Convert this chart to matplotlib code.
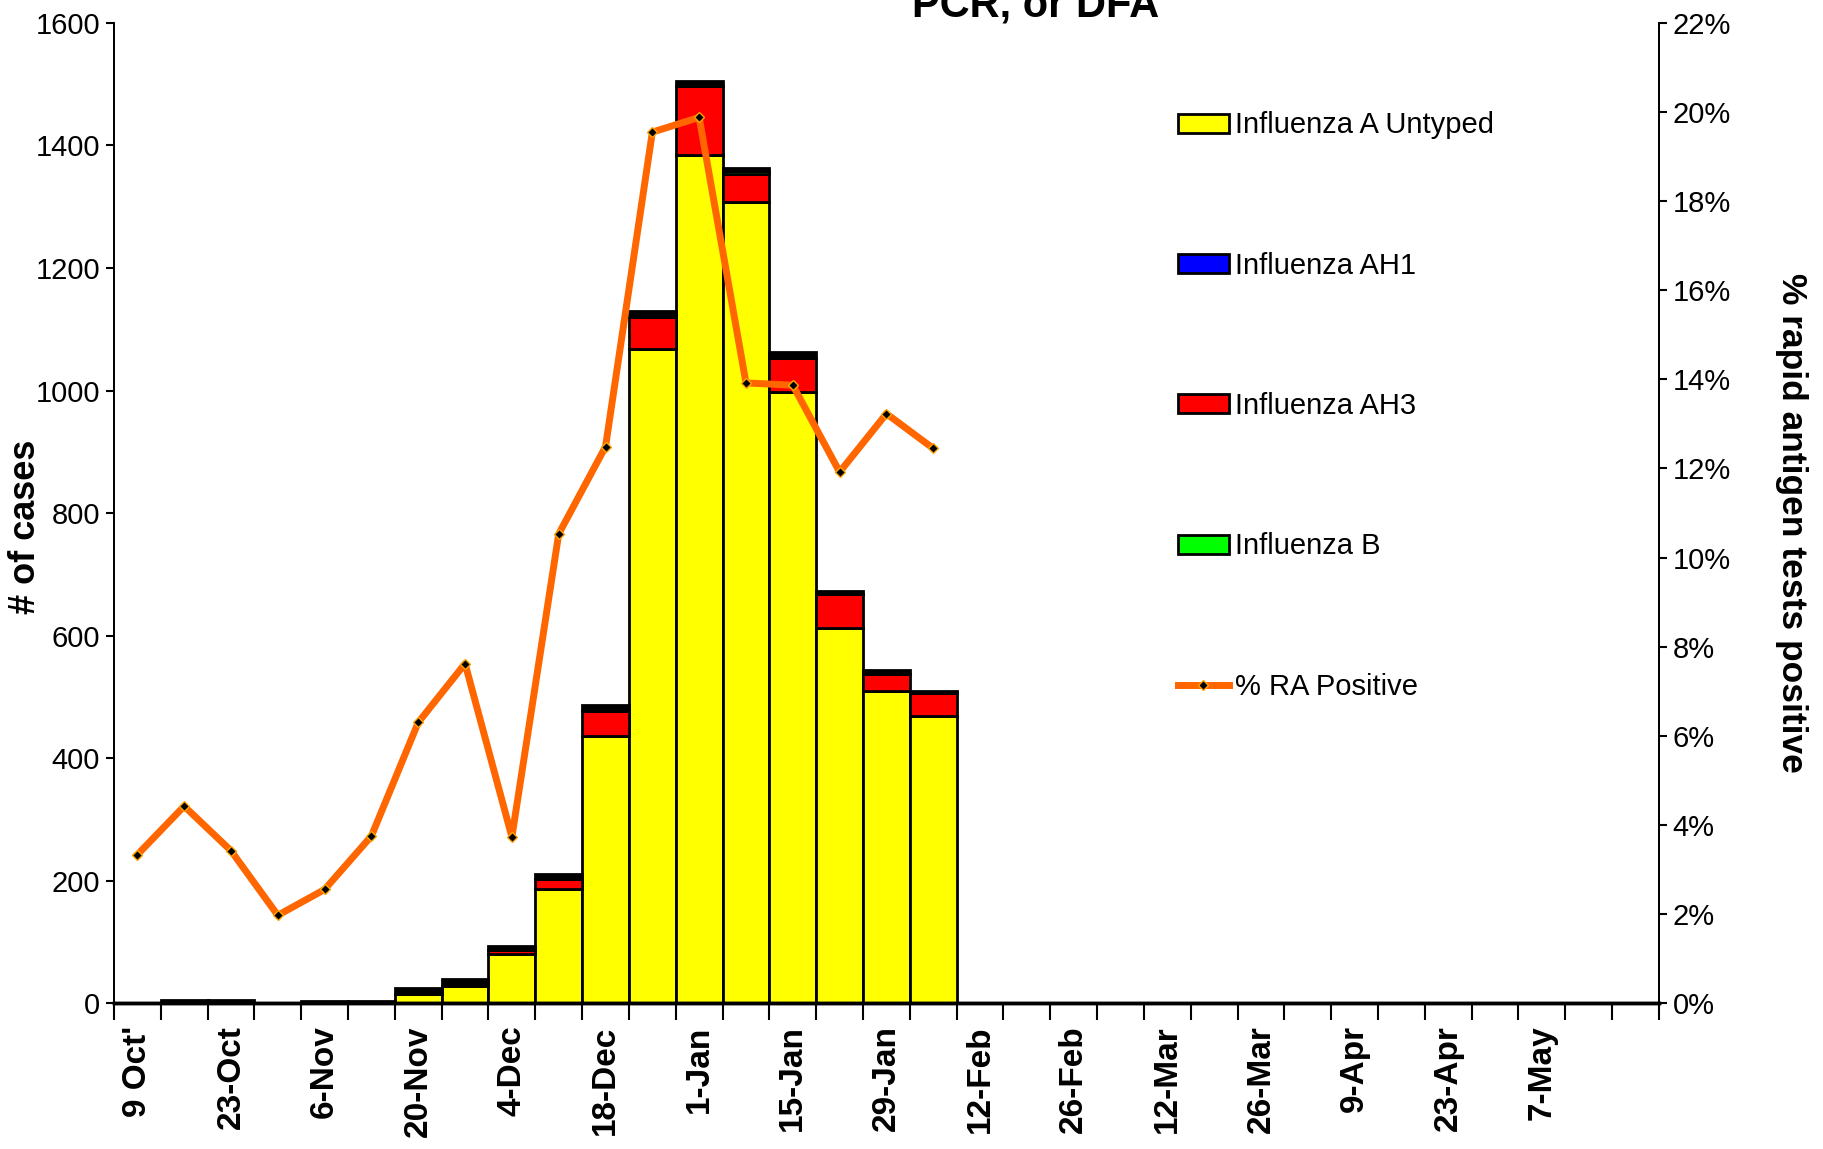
import numpy as np
import matplotlib
matplotlib.use('Agg')
import matplotlib.pyplot as plt
from matplotlib.ticker import FuncFormatter, FixedLocator

# weekly bins, 9 Oct through late May (last two bins carry no label)
weeks = ["9 Oct'", "16-Oct", "23-Oct", "30-Oct", "6-Nov", "13-Nov", "20-Nov", "27-Nov",
         "4-Dec", "11-Dec", "18-Dec", "25-Dec", "1-Jan", "8-Jan", "15-Jan", "22-Jan",
         "29-Jan", "5-Feb", "12-Feb", "19-Feb", "26-Feb", "5-Mar", "12-Mar", "19-Mar",
         "26-Mar", "2-Apr", "9-Apr", "16-Apr", "23-Apr", "30-Apr", "7-May", "", ""]

# cases per week (stacked), only first 18 weeks have data
flu_a_untyped = [0, 0, 0, 0, 0, 0, 15, 28, 80, 187, 436, 1068, 1385, 1307, 997, 612, 510, 468]
flu_ah1 = [0, 0, 0, 0, 0, 0, 0, 0, 0, 0, 0, 0, 0, 0, 0, 0, 0, 0]
flu_ah3 = [0, 0, 0, 0, 0, 0, 0, 0, 6, 15, 40, 52, 112, 47, 56, 55, 28, 38]
flu_b = [0, 0, 0, 0, 0, 0, 0, 0, 0, 0, 0, 0, 0, 5, 0, 0, 0, 0]
other = [0, 5, 5, 0, 4, 4, 10, 12, 7, 8, 10, 10, 8, 5, 10, 5, 5, 3]

# % rapid antigen tests positive
ra_positive = [3.33, 4.42, 3.42, 1.97, 2.55, 3.75, 6.30, 7.62, 3.73, 10.53, 12.49,
               19.55, 19.88, 13.92, 13.87, 11.92, 13.23, 12.45]

plt.rcParams['font.family'] = ['Liberation Sans', 'DejaVu Sans']

fig = plt.figure(figsize=(18.23, 11.49), dpi=100)
ax = fig.add_axes([0.0625, 0.127, 0.8475, 0.853])
ax2 = ax.twinx()

n = len(flu_a_untyped)
x = np.arange(n)
bottom = np.zeros(n)
series = [(flu_a_untyped, '#FFFF00', 'Influenza A Untyped'),
          (flu_ah1, '#0000FF', 'Influenza AH1'),
          (flu_ah3, '#FF0000', 'Influenza AH3'),
          (flu_b, '#00FF00', 'Influenza B'),
          (other, '#000000', '_nolegend_')]
for vals, col, lab in series:
    vals = np.array(vals, dtype=float)
    ax.bar(x, vals, width=1.0, bottom=bottom, color=col, edgecolor='black',
           linewidth=2, label=lab, zorder=2)
    bottom += vals

ax2.plot(x, np.array(ra_positive) / 100, color='#FF6600', linewidth=5, marker='D',
         markersize=5, markerfacecolor='black', markeredgecolor='#FFA500',
         markeredgewidth=1, label='% RA Positive', zorder=3)

ax.set_xlim(-0.5, len(weeks) - 0.5)
ax.set_ylim(0, 1600)
ax2.set_ylim(0, 0.22)

ax.set_yticks(np.arange(0, 1601, 200))
ax2.set_yticks(np.arange(0, 0.2201, 0.02))
ax2.yaxis.set_major_formatter(FuncFormatter(lambda v, p: f"{v*100:.0f}%"))

# ticks at bin edges, labels on every other bin
ax.xaxis.set_major_locator(FixedLocator(np.arange(-0.5, len(weeks), 1.0)))
ax.xaxis.set_major_formatter(FuncFormatter(lambda v, p: ''))
ax.xaxis.set_minor_locator(FixedLocator(np.arange(0, len(weeks), 2)))
ax.set_xticklabels([weeks[i] for i in range(0, len(weeks), 2)], minor=True,
                   rotation=90, fontsize=24, fontweight='bold')
ax.tick_params(axis='x', which='major', direction='out', length=12, width=1.5)
ax.tick_params(axis='x', which='minor', length=0, pad=16)
ax.tick_params(axis='y', direction='out', length=6, width=1.5, labelsize=21, pad=4)
ax2.tick_params(axis='y', direction='out', length=6, width=1.5, labelsize=21, pad=4)

for a in (ax, ax2):
    a.spines['top'].set_visible(False)
    a.spines['left'].set_linewidth(1.3)
    a.spines['right'].set_linewidth(1.3)
    a.spines['bottom'].set_linewidth(2.5)

ax.set_ylabel('# of cases', fontsize=26, fontweight='bold')
ax.yaxis.set_label_coords(-0.046, 0.486)
ax2.set_ylabel('% rapid antigen tests positive', fontsize=25.5, fontweight='bold',
               rotation=270, va='bottom')
ax2.yaxis.set_label_coords(1.075, 0.49)

ax.set_zorder(ax2.get_zorder() - 1)
ax2.patch.set_visible(False)

fig.text(0.568, 0.986, 'PCR, or DFA', fontsize=30, fontweight='bold',
         ha='center', va='baseline')

h1, l1 = ax.get_legend_handles_labels()
h2, l2 = ax2.get_legend_handles_labels()
fig.legend(h1 + h2, l1 + l2, loc='upper left', bbox_to_anchor=(0.646, 0.903),
           frameon=False, fontsize=21, handlelength=1.75, handleheight=0.62,
           handletextpad=0.2, labelspacing=3.85, borderpad=0, borderaxespad=0)

fig.savefig('out.png', dpi=100)
